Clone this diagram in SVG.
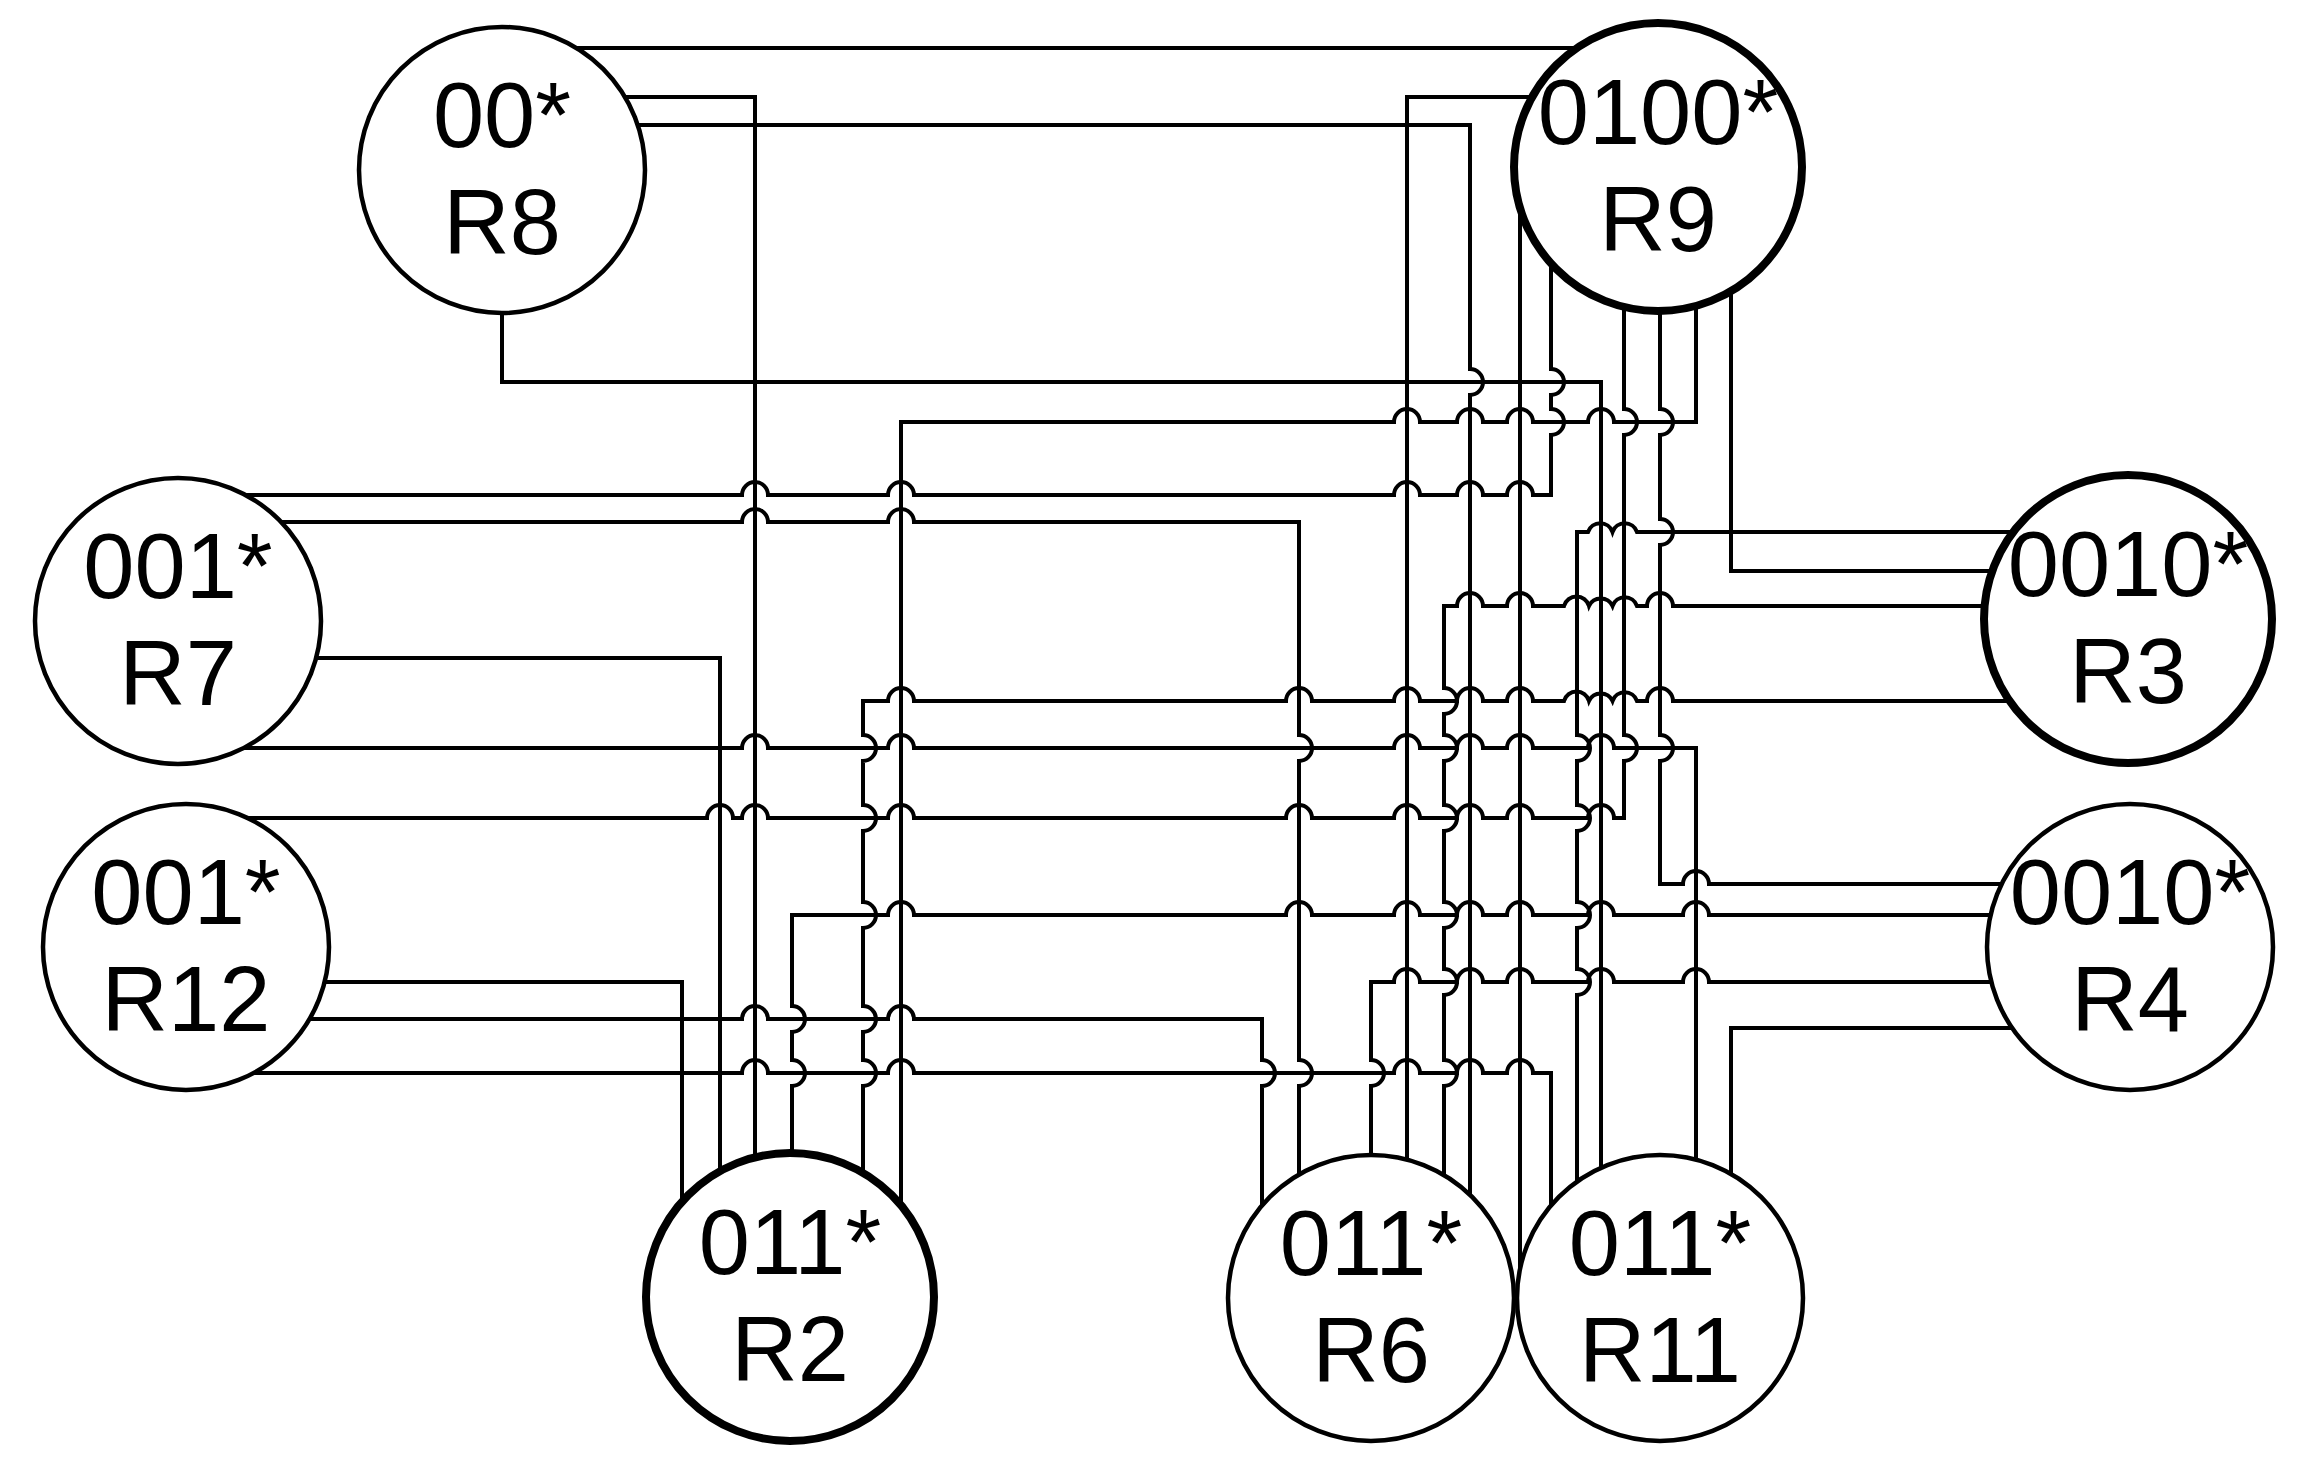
<svg xmlns="http://www.w3.org/2000/svg" width="2315" height="1477" viewBox="0 0 2315 1477">
<style>
.e{fill:none;stroke:#000;stroke-width:4;stroke-linejoin:miter}
.n circle{fill:#fff;stroke:#000;stroke-width:4.5}
.n.b circle{stroke-width:8}
.n text{font-family:"Liberation Sans",Arial,Helvetica,sans-serif;font-size:92px;text-anchor:middle;fill:#000}
</style>
<rect width="2315" height="1477" fill="#fff"/>
<g id="connectors">
<path class="e" d="M560,48 H1594"/>
<path class="e" d="M616,97 H755 V1167"/>
<path class="e" d="M629,125 H1470 V369 a13,13 0 0 1 0,26 V1206"/>
<path class="e" d="M502,300 V382 H1601 V1177"/>
<path class="e" d="M901,1220 V422 H1394 a13,13 0 0 1 26,0 H1457 a13,13 0 0 1 26,0 H1507 a13,13 0 0 1 26,0 H1588 a13,13 0 0 1 26,0 H1696 V296"/>
<path class="e" d="M226,495 H742 a13,13 0 0 1 26,0 H888 a13,13 0 0 1 26,0 H1394 a13,13 0 0 1 26,0 H1457 a13,13 0 0 1 26,0 H1507 a13,13 0 0 1 26,0 H1551 V435 a13,13 0 0 0 0,-26 V395 a13,13 0 0 0 0,-26 V249"/>
<path class="e" d="M270,522 H742 a13,13 0 0 1 26,0 H888 a13,13 0 0 1 26,0 H1299 V735 a13,13 0 0 1 0,26 V1060 a13,13 0 0 1 0,26 V1184"/>
<path class="e" d="M1731,280 V571 H2002"/>
<path class="e" d="M2025,532 H1637 a13,13 0 0 0 -24.5,0 a13,13 0 0 0 -24.5,0 H1577 V735 a13,13 0 0 1 0,26 V805 a13,13 0 0 1 0,26 V902 a13,13 0 0 1 0,26 V969 a13,13 0 0 1 0,26 V1191"/>
<path class="e" d="M224,748 H742 a13,13 0 0 1 26,0 H888 a13,13 0 0 1 26,0 H1394 a13,13 0 0 1 26,0 H1457 a13,13 0 0 1 26,0 H1507 a13,13 0 0 1 26,0 H1588 a13,13 0 0 1 26,0 H1696 V1168"/>
<path class="e" d="M226,818 H707 a13,13 0 0 1 26,0 H742 a13,13 0 0 1 26,0 H888 a13,13 0 0 1 26,0 H1286 a13,13 0 0 1 26,0 H1394 a13,13 0 0 1 26,0 H1457 a13,13 0 0 1 26,0 H1507 a13,13 0 0 1 26,0 H1588 a13,13 0 0 1 26,0 H1624 V761 a13,13 0 0 0 0,-26 V435 a13,13 0 0 0 0,-26 V298"/>
<path class="e" d="M1660,302 V409 a13,13 0 0 1 0,26 V519 a13,13 0 0 1 0,26 V735 a13,13 0 0 1 0,26 V884 H1683 a13,13 0 0 1 26,0 H2011"/>
<path class="e" d="M2022,1028 H1731 V1183"/>
<path class="e" d="M234,1073 H742 a13,13 0 0 1 26,0 H888 a13,13 0 0 1 26,0 H1394 a13,13 0 0 1 26,0 H1457 a13,13 0 0 1 26,0 H1507 a13,13 0 0 1 26,0 H1551 V1218"/>
<path class="e" d="M1520,195 V1275"/>
<path class="e" d="M1543,97 H1407 V1168"/>
<path class="e" d="M1994,606 H1673 a13,13 0 0 0 -26,0 H1637 a13,13 0 0 0 -24.5,0 a13,13 0 0 0 -23.5,0 a13,13 0 0 0 -25,0 H1533 a13,13 0 0 0 -26,0 H1483 a13,13 0 0 0 -26,0 H1444 V688 a13,13 0 0 1 0,26 V735 a13,13 0 0 1 0,26 V805 a13,13 0 0 1 0,26 V902 a13,13 0 0 1 0,26 V969 a13,13 0 0 1 0,26 V1060 a13,13 0 0 1 0,26 V1184"/>
<path class="e" d="M300,1019 H742 a13,13 0 0 1 26,0 H888 a13,13 0 0 1 26,0 H1262 V1060 a13,13 0 0 1 0,26 V1218"/>
<path class="e" d="M1371,1163 V1086 a13,13 0 0 0 0,-26 V982 H1394 a13,13 0 0 1 26,0 H1457 a13,13 0 0 1 26,0 H1507 a13,13 0 0 1 26,0 H1588 a13,13 0 0 1 26,0 H1683 a13,13 0 0 1 26,0 H2000"/>
<path class="e" d="M863,1183 V1086 a13,13 0 0 0 0,-26 V1032 a13,13 0 0 0 0,-26 V928 a13,13 0 0 0 0,-26 V831 a13,13 0 0 0 0,-26 V761 a13,13 0 0 0 0,-26 V701 H888 a13,13 0 0 1 26,0 H1286 a13,13 0 0 1 26,0 H1394 a13,13 0 0 1 26,0 H1457 a13,13 0 0 1 26,0 H1507 a13,13 0 0 1 26,0 H1564 a13,13 0 0 1 25,0 a13,13 0 0 1 23.5,0 a13,13 0 0 1 24.5,0 H1647 a13,13 0 0 1 26,0 H2021"/>
<path class="e" d="M792,1162 V1086 a13,13 0 0 0 0,-26 V1032 a13,13 0 0 0 0,-26 V915 H888 a13,13 0 0 1 26,0 H1286 a13,13 0 0 1 26,0 H1394 a13,13 0 0 1 26,0 H1457 a13,13 0 0 1 26,0 H1507 a13,13 0 0 1 26,0 H1588 a13,13 0 0 1 26,0 H1683 a13,13 0 0 1 26,0 H1999"/>
<path class="e" d="M316,982 H682 V1216"/>
<path class="e" d="M308,658 H720 V1182"/>
</g>
<g id="R8" class="n"><circle cx="502" cy="170" r="143"/><text x="502" y="147">00*</text><text x="502" y="254">R8</text></g>
<g id="R9" class="n b"><circle cx="1658" cy="167" r="144"/><text x="1658" y="144">0100*</text><text x="1658" y="251">R9</text></g>
<g id="R7" class="n"><circle cx="178" cy="621" r="143"/><text x="178" y="598">001*</text><text x="178" y="705">R7</text></g>
<g id="R12" class="n"><circle cx="186" cy="947" r="143"/><text x="186" y="924">001*</text><text x="186" y="1031">R12</text></g>
<g id="R3" class="n b"><circle cx="2128" cy="619" r="144"/><text x="2128" y="596">0010*</text><text x="2128" y="703">R3</text></g>
<g id="R4" class="n"><circle cx="2130" cy="947" r="143"/><text x="2130" y="924">0010*</text><text x="2130" y="1031">R4</text></g>
<g id="R2" class="n b"><circle cx="790" cy="1297" r="144"/><text x="790" y="1274">011*</text><text x="790" y="1381">R2</text></g>
<g id="R6" class="n"><circle cx="1371" cy="1298" r="143"/><text x="1371" y="1275">011*</text><text x="1371" y="1382">R6</text></g>
<g id="R11" class="n"><circle cx="1660" cy="1298" r="143"/><text x="1660" y="1275">011*</text><text x="1660" y="1382">R11</text></g>
</svg>
